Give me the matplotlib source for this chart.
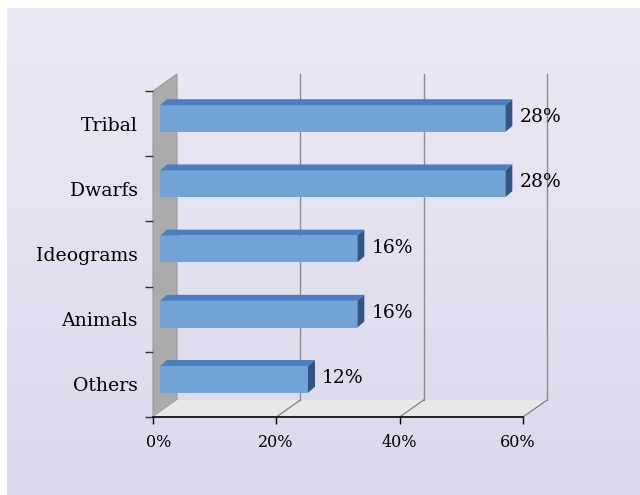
import matplotlib
matplotlib.use("Agg")
import matplotlib.pyplot as plt
import numpy as np
from matplotlib.patches import Polygon
from matplotlib.transforms import ScaledTranslation

categories = ["Others", "Animals", "Ideograms", "Dwarfs", "Tribal"]
values = [12, 16, 16, 28, 28]
value_labels = ["12%", "16%", "16%", "28%", "28%"]
tick_pos = [0, 10, 20, 30]
tick_labels = ["0%", "20%", "40%", "60%"]

W, H = 640, 495
fig = plt.figure(figsize=(W / 100, H / 100), dpi=100)
fig.patch.set_facecolor("white")
FONT = "DejaVu Serif"

# background gradient panel
bg = fig.add_axes([7 / W, 0, (W - 7) / W, (H - 8) / H], zorder=0)
grad = np.linspace(0, 1, 256).reshape(-1, 1)
top = np.array([236, 234, 245]) / 255
bot = np.array([219, 216, 236]) / 255
img = top[None, None, :] * (1 - grad[:, :, None]) + bot[None, None, :] * grad[:, :, None]
bg.imshow(img, aspect="auto", extent=[0, 1, 0, 1])
bg.axis("off")

ax = fig.add_axes([153 / W, 78 / H, 370 / W, 326 / H], zorder=1)
ax.set_facecolor("none")
ax.set_xlim(0, 30)
ax.set_ylim(-0.5, len(categories) - 0.5)

# pixel -> data scale
p0 = ax.transData.transform((0, 0))
p1 = ax.transData.transform((1, 1))
sx, sy = p1[0] - p0[0], p1[1] - p0[1]

def d(px, py):
    return px / sx, py / sy

Dx, Dy = d(24, 17)        # full depth of box
b1x, b1y = d(7, 5)        # bar front plane
b2x, b2y = d(14, 11)      # bar back plane
ymin, ymax = -0.5, len(categories) - 0.5
xmax = 30

# wall
ax.add_patch(Polygon([(0, ymin), (0, ymax), (Dx, ymax + Dy), (Dx, ymin + Dy)],
                     closed=True, facecolor="#ABABAB", edgecolor="#9A9A9A", lw=0.8,
                     clip_on=False, zorder=1))
# floor
ax.add_patch(Polygon([(0, ymin), (xmax, ymin), (xmax + Dx, ymin + Dy), (Dx, ymin + Dy)],
                     closed=True, facecolor="#E8E8E8", edgecolor="none",
                     clip_on=False, zorder=1))
# gridlines on back wall and floor
for t in tick_pos[1:]:
    ax.plot([t + Dx, t + Dx], [ymin + Dy, ymax + Dy], color="#8C8C8C", lw=1,
            clip_on=False, zorder=2)
    ax.plot([t, t + Dx], [ymin, ymin + Dy], color="#7F7F7F", lw=0.9,
            clip_on=False, zorder=2)

# bars
h = 0.41
for i, (v, lab) in enumerate(zip(values, value_labels)):
    y0, y1 = i - h / 2, i + h / 2
    front = Polygon([(b1x, y0 + b1y), (v + b1x, y0 + b1y), (v + b1x, y1 + b1y), (b1x, y1 + b1y)],
                    closed=True, facecolor="#71A3D6", edgecolor="none", clip_on=False, zorder=4)
    topf = Polygon([(b1x, y1 + b1y), (v + b1x, y1 + b1y), (v + b2x, y1 + b2y), (b2x, y1 + b2y)],
                   closed=True, facecolor="#4A7EC1", edgecolor="none", clip_on=False, zorder=4)
    side = Polygon([(v + b1x, y0 + b1y), (v + b1x, y1 + b1y), (v + b2x, y1 + b2y), (v + b2x, y0 + b2y)],
                   closed=True, facecolor="#355580", edgecolor="none", clip_on=False, zorder=4)
    for p in (front, topf, side):
        ax.add_patch(p)
    ax.text(v + b2x + 7 / sx, i + b1y + 0.02, lab, ha="left", va="center",
            fontsize=13.5, family=FONT, color="black", zorder=5, clip_on=False)

# axes styling
for s in ("top", "right", "left"):
    ax.spines[s].set_visible(False)
ax.spines["bottom"].set_color("black")
ax.spines["bottom"].set_linewidth(1.2)
ax.spines["bottom"].set_zorder(3)

ax.set_xticks(tick_pos)
ax.set_xticklabels(tick_labels, family=FONT, fontsize=11.5)
ax.tick_params(axis="x", direction="out", length=5, width=1, color="black", pad=7)
# small horizontal nudges of the tick labels (pixels)
nudges = [6, -1, 0, -5]
for lbl, n in zip(ax.get_xticklabels(), nudges):
    lbl.set_transform(lbl.get_transform() + ScaledTranslation(n / 100, 0, fig.dpi_scale_trans))

ax.set_yticks(range(len(categories)))
ax.set_yticklabels(categories, family=FONT, fontsize=13.6)
ax.tick_params(axis="y", which="major", length=0, pad=11)
ax.set_yticks(np.arange(ymin, ymax + 0.01, 1.0), minor=True)
ax.tick_params(axis="y", which="minor", length=6, width=1, color="#333333", direction="out")

fig.savefig("out.png", dpi=100)
